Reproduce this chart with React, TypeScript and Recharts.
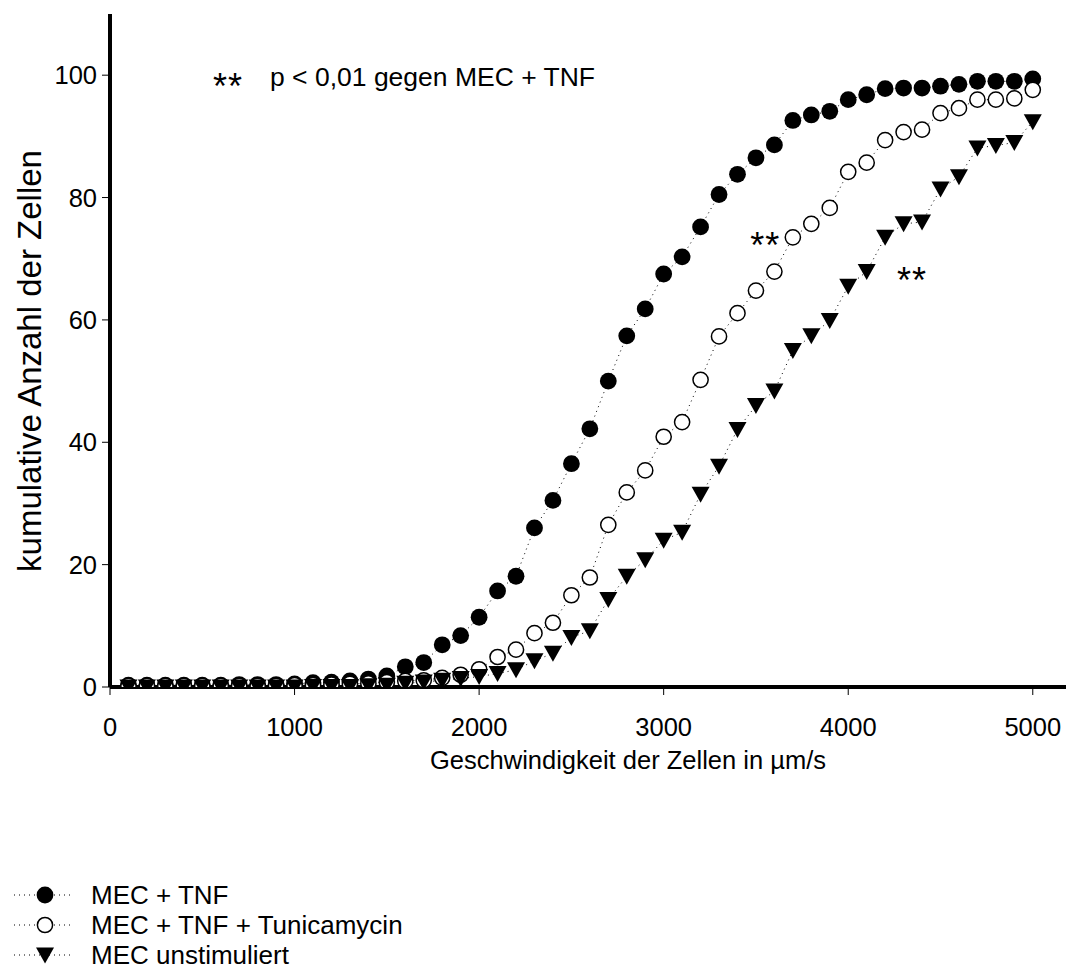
import React from 'react';
import { LineChart, Line, XAxis, YAxis, ReferenceDot, Customized } from 'recharts';

const FONT = "'Liberation Sans', Arial, Helvetica, sans-serif";

// speed categories (µm/s)
const speeds = [
  100, 200, 300, 400, 500, 600, 700, 800, 900, 1000,
  1100, 1200, 1300, 1400, 1500, 1600, 1700, 1800, 1900, 2000,
  2100, 2200, 2300, 2400, 2500, 2600, 2700, 2800, 2900, 3000,
  3100, 3200, 3300, 3400, 3500, 3600, 3700, 3800, 3900, 4000,
  4100, 4200, 4300, 4400, 4500, 4600, 4700, 4800, 4900, 5000,
];

// MEC + TNF (filled circles)
const mecTnf = [
  0.3, 0.3, 0.3, 0.3, 0.3, 0.3, 0.4, 0.4, 0.4, 0.5,
  0.7, 0.8, 1.0, 1.3, 1.8, 3.3, 4.0, 6.9, 8.4, 11.4,
  15.7, 18.1, 26.0, 30.5, 36.5, 42.2, 50.0, 57.4, 61.8, 67.5,
  70.3, 75.2, 80.5, 83.8, 86.5, 88.6, 92.6, 93.5, 94.1, 96.0,
  96.8, 97.8, 97.9, 97.9, 98.2, 98.5, 99.0, 99.0, 99.0, 99.4,
];

// MEC + TNF + Tunicamycin (open circles)
const mecTnfTunicamycin = [
  0.2, 0.2, 0.2, 0.2, 0.2, 0.2, 0.2, 0.2, 0.2, 0.3,
  0.3, 0.4, 0.5, 0.6, 0.8, 1.0, 1.1, 1.5, 2.0, 2.9,
  4.9, 6.1, 8.8, 10.5, 15.0, 17.9, 26.5, 31.8, 35.4, 40.9,
  43.3, 50.2, 57.3, 61.1, 64.8, 67.9, 73.5, 75.7, 78.3, 84.2,
  85.7, 89.4, 90.7, 91.1, 93.8, 94.6, 96.0, 96.0, 96.2, 97.6,
];

// MEC unstimuliert (filled down triangles)
const mecUnstimuliert = [
  0.0, 0.0, 0.0, 0.0, 0.0, 0.0, 0.0, 0.0, 0.0, 0.0,
  0.1, 0.1, 0.1, 0.2, 0.3, 0.6, 0.8, 1.1, 1.4, 1.7,
  2.2, 2.8, 4.3, 5.5, 8.1, 9.2, 14.3, 18.1, 20.8, 24.0,
  25.3, 31.5, 36.1, 42.1, 46.0, 48.4, 55.0, 57.4, 59.9, 65.5,
  67.9, 73.5, 75.7, 76.0, 81.4, 83.4, 88.1, 88.5, 89.0, 92.4,
];

const seriesNames = ['MEC + TNF', 'MEC + TNF + Tunicamycin', 'MEC unstimuliert'];
const xTicks = [0, 1000, 2000, 3000, 4000, 5000];
const yTicks = [0, 20, 40, 60, 80, 100];
const xTitle = 'Geschwindigkeit der Zellen in µm/s';
const yTitle = 'kumulative Anzahl der Zellen';
const sigLabel = '**';
const sigNote = 'p < 0,01 gegen MEC + TNF';
const sigX = [3550, 4345];
const sigY = [73.4, 67.7];

const data = speeds.map((s, i) => ({
  speed: s,
  tnf: mecTnf[i],
  tun: mecTnfTunicamycin[i],
  unst: mecUnstimuliert[i],
}));

const FilledDot = (p: any) =>
  p.cx == null ? null : <circle key={p.key} cx={p.cx} cy={p.cy} r={8.4} fill="#000" />;
const OpenDot = (p: any) =>
  p.cx == null ? null : (
    <circle key={p.key} cx={p.cx} cy={p.cy} r={7.6} fill="#fff" stroke="#000" strokeWidth={1.5} />
  );
const TriDot = (p: any) =>
  p.cx == null ? null : (
    <polygon
      key={p.key}
      points={`${p.cx - 9},${p.cy - 7.5} ${p.cx + 9},${p.cy - 7.5} ${p.cx},${p.cy + 8.5}`}
      fill="#000"
    />
  );

const Overlay = () => (
  <g fontFamily={FONT} fill="#000">
    <text x={41} y={361} fontSize={33} textAnchor="middle" transform="rotate(-90 41 361)">
      {yTitle}
    </text>
    <text x={628} y={769} fontSize={25.5} textAnchor="middle">
      {xTitle}
    </text>
    <text x={213} y={99} fontSize={36} letterSpacing={1}>
      {sigLabel}
    </text>
    <text x={270} y={86} fontSize={26.5}>
      {sigNote}
    </text>
  </g>
);

const SigShape = (p: any) => (
  <text
    x={p.cx}
    y={p.cy + 20}
    textAnchor="middle"
    fontSize={36}
    letterSpacing={1}
    fontFamily={FONT}
    fill="#000"
  >
    {sigLabel}
  </text>
);

const dotted = { stroke: '#000', strokeWidth: 1, strokeDasharray: '1 4' };

const Legend = () => {
  const rows = [FilledDot, OpenDot, TriDot];
  const ys = [115, 145, 175];
  return (
    <svg width={460} height={192} style={{ display: 'block' }}>
      {rows.map((Shape, i) => (
        <g key={i}>
          <line x1={14} x2={72} y1={ys[i]} y2={ys[i]} {...dotted} />
          {Shape({ cx: 45, cy: ys[i], key: 'l' + i })}
          <text x={91} y={ys[i] + 9.3} fontSize={26} fontFamily={FONT} fill="#000">
            {seriesNames[i]}
          </text>
        </g>
      ))}
    </svg>
  );
};

export default function App() {
  return (
    <div
      style={{
        position: 'absolute',
        left: 0,
        top: 0,
        width: 1066,
        height: 972,
        overflow: 'hidden',
        background: '#fff',
        fontFamily: FONT,
      }}
    >
      <LineChart
        width={1066}
        height={780}
        data={data}
        margin={{ top: 14, right: 0, left: 0, bottom: 3 }}
      >
        <XAxis
          dataKey="speed"
          type="number"
          domain={[0, 5180]}
          ticks={xTicks}
          height={90}
          tickSize={8}
          tickMargin={23}
          axisLine={{ stroke: '#000', strokeWidth: 4 }}
          tickLine={{ stroke: '#000', strokeWidth: 1 }}
          tick={{ fill: '#000', fontSize: 25.5, fontFamily: FONT }}
          allowDataOverflow
        />
        <YAxis
          type="number"
          domain={[0, 110]}
          ticks={yTicks}
          width={110}
          tickSize={8}
          tickMargin={5}
          axisLine={{ stroke: '#000', strokeWidth: 4 }}
          tickLine={{ stroke: '#000', strokeWidth: 1 }}
          tick={{ fill: '#000', fontSize: 25.5, fontFamily: FONT }}
          allowDataOverflow
        />
        <Line
          dataKey="tnf"
          name={seriesNames[0]}
          {...dotted}
          dot={FilledDot}
          activeDot={false}
          isAnimationActive={false}
        />
        <Line
          dataKey="tun"
          name={seriesNames[1]}
          {...dotted}
          dot={OpenDot}
          activeDot={false}
          isAnimationActive={false}
        />
        <Line
          dataKey="unst"
          name={seriesNames[2]}
          {...dotted}
          dot={TriDot}
          activeDot={false}
          isAnimationActive={false}
        />
        {sigX.map((x, i) => (
          <ReferenceDot key={i} x={x} y={sigY[i]} r={0} shape={SigShape} />
        ))}
        <Customized component={Overlay} />
      </LineChart>
      <Legend />
    </div>
  );
}
